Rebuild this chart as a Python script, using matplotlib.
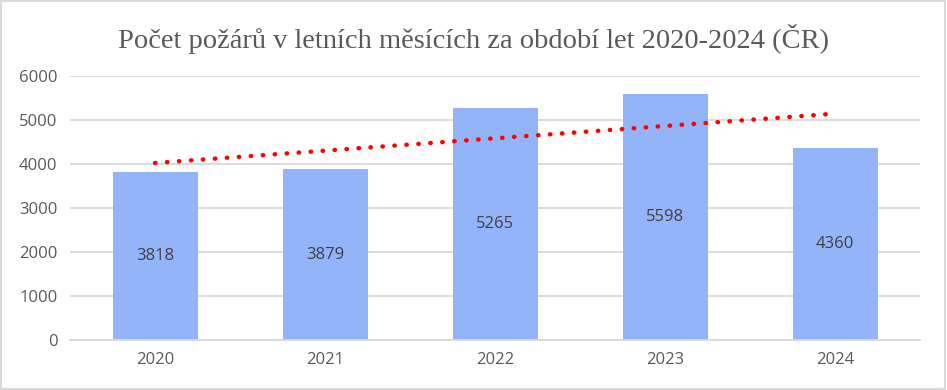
import numpy as np
import matplotlib.pyplot as plt
from matplotlib.patches import Rectangle

# ---Data---
years = ["2020", "2021", "2022", "2023", "2024"]
fires = [3818, 3879, 5265, 5598, 4360]
yticks = [0, 1000, 2000, 3000, 4000, 5000, 6000]

x = np.arange(len(years))
coef = np.polyfit(x, fires, 1)  # linear trendline
trend = np.polyval(coef, x)

fig = plt.figure(figsize=(9.47, 3.9), dpi=100)
ax = fig.add_axes([70/947, 1 - 340/390, 850/947, 264/390])

ax.bar(x, fires, width=0.5, color="#94B4FA", zorder=2)
for xi, v in zip(x, fires):
    ax.text(xi, v/2, str(v), ha="center", va="center", fontsize=12,
            color="#404040", family="Open Sans", zorder=3)

ax.plot(x, trend, ls=(0, (0.1, 2.6)), lw=3.2, c="#FF0000",
        dash_capstyle="round", zorder=4)

ax.set_xlim(-0.5, 4.5)
ax.set_ylim(0, 6000)
ax.set_yticks(yticks)
ax.set_xticks(x)
ax.set_xticklabels(years)
ax.grid(axis="y", color="#D9D9D9", lw=1.3, zorder=0)
for s in ["top", "right", "left"]:
    ax.spines[s].set_visible(False)
ax.spines["bottom"].set_color("#D9D9D9")
ax.spines["bottom"].set_linewidth(1.3)
ax.tick_params(length=0, labelsize=12, labelcolor="#595959", pad=9)
for lab in ax.get_xticklabels() + ax.get_yticklabels():
    lab.set_family("Open Sans")

fig.text(0.5, 1 - 39/390, "Počet požárů v letních měsících za období let 2020-2024 (ČR)",
         ha="center", va="center", fontsize=20.5, color="#595959", family="Liberation Serif")

fig.patches.append(Rectangle((0.001, 0.002), 0.997, 0.995, transform=fig.transFigure,
                             fill=False, ec="#D9D9D9", lw=1.5))

plt.savefig("out.png", dpi=100)
